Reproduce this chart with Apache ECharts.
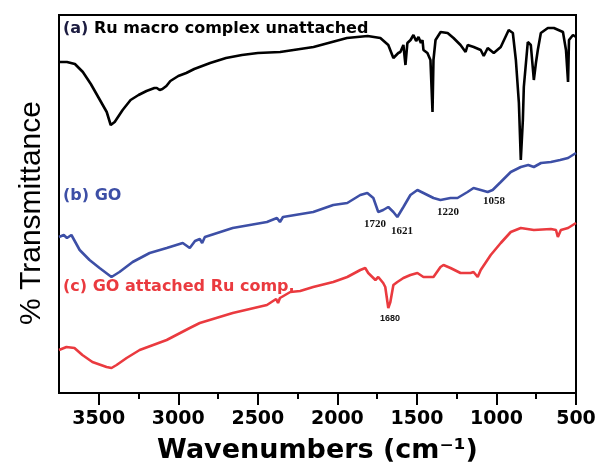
<!DOCTYPE html>
<html>
<head>
<meta charset="utf-8">
<script src="https://cdn.jsdelivr.net/npm/echarts@6/dist/echarts.min.js"></script>
<style>html,body{margin:0;padding:0;background:#fff}#c{width:597px;height:465px}</style>
</head>
<body>
<div id="c"></div>
<script>
// x-axis tick labels (wavenumbers, cm-1)
const xTicks = [3500, 3000, 2500, 2000, 1500, 1000, 500];
const xMinorTicks = [3250, 2750, 2250, 1750, 1250, 750];

// (a) Ru macro complex unattached
const aWn = [3750,3700,3650,3600,3550,3500,3450,3425,3400,3350,3300,3250,3200,3150,3135,3117,3100,3075,3050,3000,2950,2900,2800,2700,2600,2500,2360,2150,1940,1810,1730,1680,1648,1636,1617,1604,1585,1572,1560,1540,1522,1505,1490,1475,1465,1459,1434,1415,1402,1396,1383,1351,1307,1270,1226,1194,1181,1143,1099,1080,1055,1017,973,923,897,878,859,847,834,828,803,784,765,752,740,721,677,639,582,563,550,544,519,500];
const aT  = [331,331,329,321,309,295,281,268,271,283,293,298,302,305,305,303,304,307,312,317,320,324,330,335,338,340,341,346,355,357,355,348,335,335,340,341,348,328,350,353,358,352,356,350,353,343,340,333,281,333,353,361,360,355,348,341,348,346,343,337,345,340,346,363,360,333,290,233,273,306,351,348,313,330,343,360,365,365,361,343,311,353,358,356];

// (b) GO
const bWn = [3750,3720,3700,3672,3620,3558,3495,3420,3370,3287,3180,3073,2972,2928,2895,2865,2850,2833,2658,2443,2380,2361,2342,2152,2026,1938,1856,1812,1774,1743,1712,1680,1648,1623,1585,1541,1497,1459,1396,1352,1289,1245,1182,1144,1099,1055,1024,973,910,847,800,765,720,658,600,550,500];
const bT  = [156,158,155,158,143,133,125,116,121,131,140,145,150,145,152,154,150,156,165,171,175,171,176,181,188,190,198,200,195,181,183,186,181,176,186,198,203,200,195,193,195,195,201,205,203,201,203,211,221,226,228,226,230,231,233,235,240];

// (c) GO attached Ru comp.
const cWn = [3750,3703,3653,3603,3540,3451,3420,3388,3325,3243,3073,2928,2916,2865,2658,2443,2385,2373,2361,2296,2234,2152,2026,1938,1856,1825,1806,1761,1743,1712,1699,1680,1667,1648,1623,1585,1541,1497,1459,1396,1352,1333,1289,1226,1163,1144,1118,1099,1036,973,910,847,765,658,626,614,595,550,500];
const cT  = [43,46,45,38,31,26,25,28,35,43,53,65,63,70,80,88,94,90,95,101,102,106,111,116,123,125,120,113,116,110,106,85,91,108,111,115,118,120,116,116,126,128,125,120,120,121,116,123,138,150,161,165,163,164,163,156,163,165,170];

// peak labels
const peakLabels = ['1720', '1621', '1220', '1058', '1680'];

function zip(xs, ys) { return xs.map((x, i) => [x, ys[i]]); }

const chart = echarts.init(document.getElementById('c'));
const serifLbl = {fontFamily: 'Liberation Serif', fontWeight: 'bold', fontSize: 11, fill: '#111'};
chart.setOption({
  animation: false,
  grid: [
    {left: 59, right: 21, top: 15, bottom: 72, show: true, borderColor: '#000', borderWidth: 2, outerBoundsMode: 'none', containLabel: false},
    {left: 59, right: 21, top: 15, bottom: 72, show: false, outerBoundsMode: 'none', containLabel: false}
  ],
  xAxis: [{
    gridIndex: 0,
    type: 'value', min: 500, max: 3750, interval: 500, inverse: true,
    axisLine: {show: true, lineStyle: {color: '#000', width: 2}},
    axisTick: {show: true, length: 12, lineStyle: {color: '#000', width: 2}},
    axisLabel: {show: true, showMaxLabel: false, margin: 17, color: '#000',
      fontFamily: 'DejaVu Sans', fontWeight: 'bold', fontSize: 19,
      formatter: v => xTicks.indexOf(v) >= 0 ? String(v) : ''},
    splitLine: {show: false},
    name: 'Wavenumbers (cm\u207B\u00B9)', nameLocation: 'middle', nameGap: 44,
    nameTextStyle: {fontFamily: 'DejaVu Sans', fontWeight: 'bold', fontSize: 27, color: '#000'}
  }, {
    gridIndex: 1,
    type: 'value', min: 500, max: 3750, inverse: true, position: 'bottom',
    axisLine: {show: false},
    axisTick: {show: true, length: 6, customValues: xMinorTicks, lineStyle: {color: '#000', width: 2}},
    axisLabel: {show: true, customValues: xMinorTicks, color: 'rgba(0,0,0,0)', formatter: () => ''},
    splitLine: {show: false}
  }],
  yAxis: [{
    gridIndex: 0,
    type: 'value', min: 0, max: 378,
    axisLine: {show: true, lineStyle: {color: '#000', width: 2}},
    axisTick: {show: false}, axisLabel: {show: false}, splitLine: {show: false},
    name: '% Transmittance', nameLocation: 'middle', nameGap: 12,
    nameTextStyle: {fontFamily: 'Liberation Sans', fontSize: 30, color: '#000', padding: [0, 18, 0, 0]}
  }, {
    gridIndex: 1, type: 'value', min: 0, max: 378, show: false
  }],
  series: [
    {type: 'line', name: 'a', xAxisIndex: 0, yAxisIndex: 0, data: zip(aWn, aT), showSymbol: false, lineStyle: {color: '#000', width: 2.6}},
    {type: 'line', name: 'b', xAxisIndex: 0, yAxisIndex: 0, data: zip(bWn, bT), showSymbol: false, lineStyle: {color: '#3d4fa6', width: 2.6}},
    {type: 'line', name: 'c', xAxisIndex: 0, yAxisIndex: 0, data: zip(cWn, cT), showSymbol: false, lineStyle: {color: '#ea3a3f', width: 2.6}},
    {type: 'line', name: 'ticks', xAxisIndex: 1, yAxisIndex: 1, data: [], showSymbol: false}
  ],
  graphic: [
    {type: 'text', left: 63, top: 21, style: {
      text: '{p|(a)} Ru macro complex unattached',
      fontFamily: 'DejaVu Sans', fontWeight: 'bold', fontSize: 16, fill: '#000',
      rich: {p: {fontFamily: 'DejaVu Sans', fontWeight: 'bold', fontSize: 16, fill: '#1c1c40'}}}},
    {type: 'text', left: 63, top: 188, style: {text: '(b) GO', fontFamily: 'DejaVu Sans', fontWeight: 'bold', fontSize: 16, fill: '#3d4fa6'}},
    {type: 'text', left: 63, top: 279, style: {text: '(c) GO attached Ru comp.', fontFamily: 'DejaVu Sans', fontWeight: 'bold', fontSize: 16, fill: '#ea3a3f'}},
    {type: 'text', x: 375, y: 224, style: Object.assign({text: peakLabels[0], align: 'center', verticalAlign: 'middle'}, serifLbl)},
    {type: 'text', x: 402, y: 231, style: Object.assign({text: peakLabels[1], align: 'center', verticalAlign: 'middle'}, serifLbl)},
    {type: 'text', x: 448, y: 212, style: Object.assign({text: peakLabels[2], align: 'center', verticalAlign: 'middle'}, serifLbl)},
    {type: 'text', x: 494, y: 201, style: Object.assign({text: peakLabels[3], align: 'center', verticalAlign: 'middle'}, serifLbl)},
    {type: 'text', x: 390, y: 319, style: {text: peakLabels[4], align: 'center', verticalAlign: 'middle', fontFamily: 'Liberation Sans', fontWeight: 'bold', fontSize: 9, fill: '#111'}}
  ]
});
</script>
</body>
</html>
